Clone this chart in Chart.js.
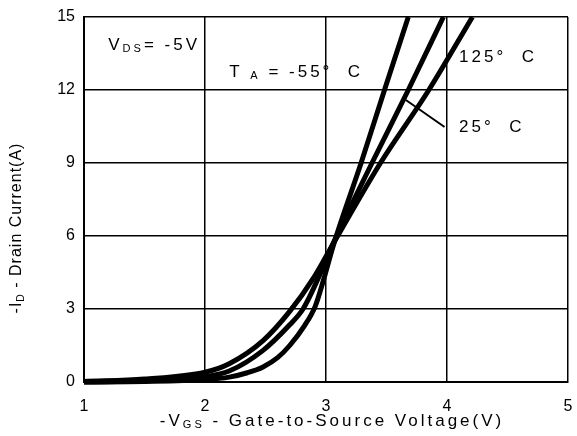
<!DOCTYPE html>
<html>
<head>
<meta charset="utf-8">
<script src="https://cdn.jsdelivr.net/npm/chart.js@4.4.1/dist/chart.umd.min.js"></script>
<style>
  html, body { margin: 0; padding: 0; background: #fff; }
  #wrap { width: 577px; height: 436px; }
</style>
</head>
<body>
<div id="wrap"><canvas id="chart1"></canvas></div>
<script>
// Id vs Vgs
const vgs_m55 = [1, 1.5, 2, 2.2, 2.35, 2.48, 2.6, 2.7, 2.82, 2.91, 2.98, 3.06, 3.29, 3.49, 3.68]
const id_m55 = [0, 0.02, 0.1, 0.2, 0.38, 0.62, 1.0, 1.5, 2.3, 3.1, 4.2, 5.6, 9, 12.1, 15]

const vgs_25 = [1, 1.5, 2, 2.2, 2.48, 2.7, 2.81, 2.93, 3.05, 3.38, 3.68, 3.97]
const id_25 = [0, 0.05, 0.22, 0.45, 1.3, 2.35, 3, 4.2, 5.6, 9, 12, 15]

const vgs_125 = [1, 1.5, 2, 2.2, 2.48, 2.7, 2.9, 3.05, 3.45, 3.85, 4.21]
const id_125 = [0.02, 0.12, 0.4, 0.75, 1.7, 2.9, 4.3, 5.6, 9, 12, 15]

const xTicks = [1, 2, 3, 4, 5]
const yTicks = [0, 3, 6, 9, 12, 15]

// text notes, in data units
const notes = [
    { x: 1.2, y: 13.85, parts: [['V', 0], ['DS', 1], ['= -5V', 0]] },
    { x: 2.2, y: 12.74, parts: [['T ', 0], ['A', 1], [' = -55°  C', 0]] },
    { x: 4.1, y: 13.36, parts: [['125°  C', 0]] },
    { x: 4.1, y: 10.48, parts: [['25°  C', 0]] }
]
const leader = [[3.66, 11.59], [3.98, 10.48]]

const toPts = (xs, ys) => xs.map((x, i) => ({ x: x, y: ys[i] }))

const font = '"Liberation Sans", Arial, sans-serif'

// draw rich text with subscripts
const drawParts = (ctx, parts, x, y, size, align) => {
    let total = 0
    parts.forEach(p => {
        ctx.font = (p[1] ? size * 0.65 : size) + 'px ' + font
        total += ctx.measureText(p[0]).width
    })
    let cx = align === 'center' ? x - total / 2 : x
    parts.forEach(p => {
        ctx.font = (p[1] ? size * 0.65 : size) + 'px ' + font
        ctx.fillText(p[0], cx, p[1] ? y + size * 0.25 : y)
        cx += ctx.measureText(p[0]).width
    })
}

const textPlugin = {
    id: 'textPlugin',
    afterDraw(chart) {
        const ctx = chart.ctx
        const xs = chart.scales.x
        const ys = chart.scales.y
        ctx.save()
        ctx.fillStyle = '#000'
        ctx.textBaseline = 'middle'
        ctx.textAlign = 'left'
        ctx.letterSpacing = '3px'
        notes.forEach(n => {
            drawParts(ctx, n.parts, xs.getPixelForValue(n.x), ys.getPixelForValue(n.y), 17, 'left')
        })

        // leader line to the 25 C curve
        ctx.strokeStyle = '#000'
        ctx.lineWidth = 2
        ctx.beginPath()
        ctx.moveTo(xs.getPixelForValue(leader[0][0]), ys.getPixelForValue(leader[0][1]))
        ctx.lineTo(xs.getPixelForValue(leader[1][0]), ys.getPixelForValue(leader[1][1]))
        ctx.stroke()

        // axis titles
        ctx.letterSpacing = '3px'
        drawParts(ctx, [['-V', 0], ['GS', 1], [' - Gate-to-Source Voltage(V)', 0]], 332, 421, 17, 'center')

        ctx.letterSpacing = '1px'
        ctx.translate(17, 228)
        ctx.rotate(-Math.PI / 2)
        drawParts(ctx, [['-I', 0], ['D', 1], [' - Drain Current(A)', 0]], 0, 0, 16, 'center')
        ctx.restore()
    }
}

document.addEventListener('DOMContentLoaded', () => {
    const line = (label, xs, ys) => ({
        label: label,
        data: toPts(xs, ys),
        showLine: true,
        borderColor: '#000',
        backgroundColor: '#000',
        borderWidth: 5,
        pointRadius: 0,
        cubicInterpolationMode: 'monotone',
        clip: 4
    })

    var chart1 = document.getElementById('chart1').getContext('2d')
    new Chart(chart1, {
        type: 'scatter',
        data: {
            datasets: [
                line('-55 C', vgs_m55, id_m55),
                line('25 C', vgs_25, id_25),
                line('125 C', vgs_125, id_125)
            ]
        },
        options: {
            responsive: true,
            maintainAspectRatio: false,
            animation: false,
            layout: { padding: { top: 17, right: 9, left: 0, bottom: 0 } },
            plugins: {
                legend: { display: false },
                tooltip: { enabled: false }
            },
            scales: {
                x: {
                    type: 'linear',
                    min: 1,
                    max: 5,
                    afterBuildTicks: s => { s.ticks = xTicks.map(v => ({ value: v })) },
                    afterFit: s => { s.height = 54 },
                    grid: { color: '#000', lineWidth: 1.5, drawTicks: true, tickLength: 15, tickColor: 'rgba(0,0,0,0)' },
                    border: { color: '#000', width: 2 },
                    ticks: { color: '#000', padding: 0, font: { family: font, size: 16 } }
                },
                y: {
                    type: 'linear',
                    min: 0,
                    max: 15,
                    afterBuildTicks: s => { s.ticks = yTicks.map(v => ({ value: v })) },
                    afterFit: s => { s.width = 84 },
                    grid: { color: '#000', lineWidth: 1.5, drawTicks: true, tickLength: 9, tickColor: 'rgba(0,0,0,0)' },
                    border: { color: '#000', width: 2 },
                    ticks: { color: '#000', padding: 0, font: { family: font, size: 16 } }
                }
            }
        },
        plugins: [textPlugin]
    })
})
</script>
</body>
</html>
